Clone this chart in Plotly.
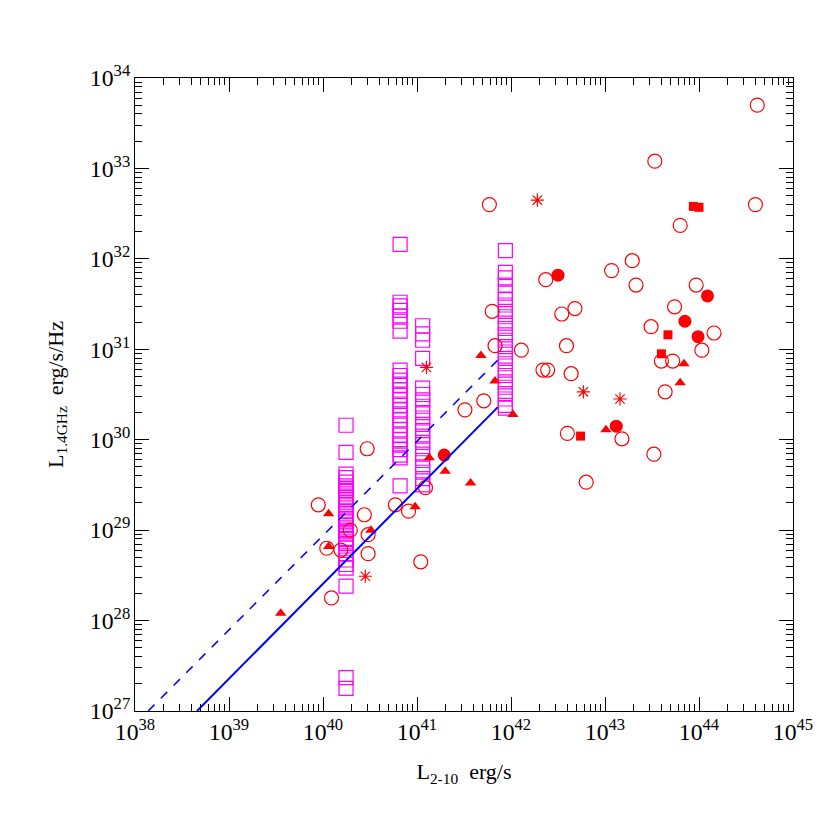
import numpy as np
import plotly.graph_objects as go

# all values are log10
sq_x = [40.245] * 33 + [40.82] * 27 + [41.06] * 21 + [41.94] * 25
sq_y = ([30.16, 29.86, 29.62, 29.58, 29.53, 29.49, 29.44, 29.40, 29.36, 29.31, 29.27, 29.22,
         29.18, 29.13, 29.09, 29.05, 29.00, 28.96, 28.91, 28.87, 28.80, 28.74, 28.67, 28.58,
         28.38, 27.37, 27.25, 29.10, 28.98, 28.85, 29.34, 29.46, 28.62]
        + [32.16, 31.52, 31.48, 31.43, 31.37, 31.31, 31.20, 30.77, 30.71, 30.66, 30.60, 30.55,
           30.49, 30.44, 30.38, 30.33, 30.27, 30.22, 30.16, 30.11, 30.05, 30.00, 29.94, 29.89,
           29.83, 29.80, 29.49]
        + [31.26, 31.17, 31.10, 30.90, 30.57, 30.50, 30.44, 30.37, 30.30, 30.24, 30.17, 30.10,
           30.04, 29.97, 29.90, 29.84, 29.77, 29.70, 29.64, 29.57, 29.50]
        + [32.09, 31.85, 31.79, 31.71, 31.62, 31.55, 31.49, 31.42, 31.36, 31.29, 31.23, 31.16,
           31.10, 31.03, 30.97, 30.90, 30.84, 30.77, 30.71, 30.64, 30.58, 30.51, 30.45, 30.38,
           30.35])

oc_x = [39.95, 40.44, 40.29, 40.04, 40.19, 40.48, 40.48, 40.47, 40.09, 40.77, 40.91, 41.09,
        41.04, 41.51, 41.71, 41.80, 41.83, 42.11, 42.34, 42.39, 42.37, 41.77, 44.62, 43.53,
        44.60, 43.80, 43.29, 43.07, 43.33, 43.97, 43.74, 42.68, 42.54, 43.49, 44.16, 42.59,
        44.03, 42.64, 43.60, 43.72, 43.64, 42.60, 43.18, 43.52, 42.80]
oc_y = [29.28, 29.17, 29.00, 28.80, 28.78, 28.95, 28.74, 29.90, 28.25, 29.28, 29.21, 29.47,
        28.65, 30.33, 30.43, 31.42, 31.04, 30.99, 30.77, 30.77, 31.77, 32.60, 33.70, 33.08,
        32.60, 32.37, 31.98, 31.87, 31.71, 31.71, 31.47, 31.45, 31.39, 31.25, 31.18, 31.04,
        30.99, 30.73, 30.87, 30.87, 30.53, 30.07, 30.01, 29.84, 29.53]

fc_x = [42.50, 44.09, 43.85, 43.99, 43.12, 41.29]
fc_y = [31.82, 31.59, 31.31, 31.14, 30.15, 29.83]

fs_x = [43.94, 44.00, 43.67, 43.60, 42.74]
fs_y = [32.58, 32.57, 31.16, 30.95, 30.04]

tr_x = [42.02, 43.01, 43.84, 43.80, 41.68, 41.83, 40.06, 40.06, 40.51, 41.13, 41.30, 41.57,
        40.98, 39.55]
tr_y = [30.28, 30.11, 30.84, 30.63, 30.93, 30.65, 29.18, 28.82, 29.00, 29.80, 29.65, 29.52,
        29.26, 28.08]

st_x = [42.28, 42.77, 43.16, 41.10, 40.45]
st_y = [32.65, 30.53, 30.45, 30.80, 28.49]

solid_x = [38.66, 41.86]
solid_y = [27.0, 30.36]
dash_x = [38.14, 41.86]
dash_y = [27.0, 30.88]


def p(v):
    return 10 ** np.array(v)


RED = "#ff0000"
fig = go.Figure()
fig.add_trace(go.Scatter(x=p(sq_x), y=p(sq_y), mode="markers",
                         marker=dict(symbol="square-open", size=14, color="#ff00ff", line=dict(width=1.2))))
fig.add_trace(go.Scatter(x=p(oc_x), y=p(oc_y), mode="markers",
                         marker=dict(symbol="circle-open", size=14, color=RED, line=dict(width=1.2))))
fig.add_trace(go.Scatter(x=p(fc_x), y=p(fc_y), mode="markers",
                         marker=dict(symbol="circle", size=13, color=RED)))
fig.add_trace(go.Scatter(x=p(fs_x), y=p(fs_y), mode="markers",
                         marker=dict(symbol="square", size=9, color=RED)))
fig.add_trace(go.Scatter(x=p(tr_x), y=p(tr_y), mode="markers",
                         marker=dict(symbol="triangle-up", size=10, color=RED)))
fig.add_trace(go.Scatter(x=p(st_x), y=p(st_y), mode="markers",
                         marker=dict(symbol="asterisk-open", size=11, color=RED, line=dict(width=1.2, color=RED))))
fig.add_trace(go.Scatter(x=p(solid_x), y=p(solid_y), mode="lines",
                         line=dict(color="#0000ff", width=2)))
fig.add_trace(go.Scatter(x=p(dash_x), y=p(dash_y), mode="lines",
                         line=dict(color="#0000ff", width=1.5, dash="dash")))

axis = dict(type="log", dtick=1, exponentformat="power", showgrid=False, zeroline=False,
            ticks="inside", ticklen=14, tickwidth=1, tickcolor="black", mirror="allticks",
            showline=True, linecolor="black", linewidth=1, automargin=False,
            minor=dict(ticks="inside", ticklen=7, tickcolor="black", dtick="D1"),
            tickfont=dict(size=19, family="Liberation Serif", color="black"))
fig.update_xaxes(range=[38, 45], title=dict(text="L<sub>2-10</sub>  erg/s", standoff=20,
                 font=dict(size=22, family="Liberation Serif", color="black")), **axis)
fig.update_yaxes(range=[27, 34], title=dict(text="L<sub>1.4GHz</sub>  erg/s/Hz", standoff=20,
                 font=dict(size=22, family="Liberation Serif", color="black")), **axis)
fig.update_layout(width=830, height=830, showlegend=False,
                  plot_bgcolor="white", paper_bgcolor="white",
                  margin=dict(l=127, r=45, t=70, b=127))
fig.write_html("out.html")
